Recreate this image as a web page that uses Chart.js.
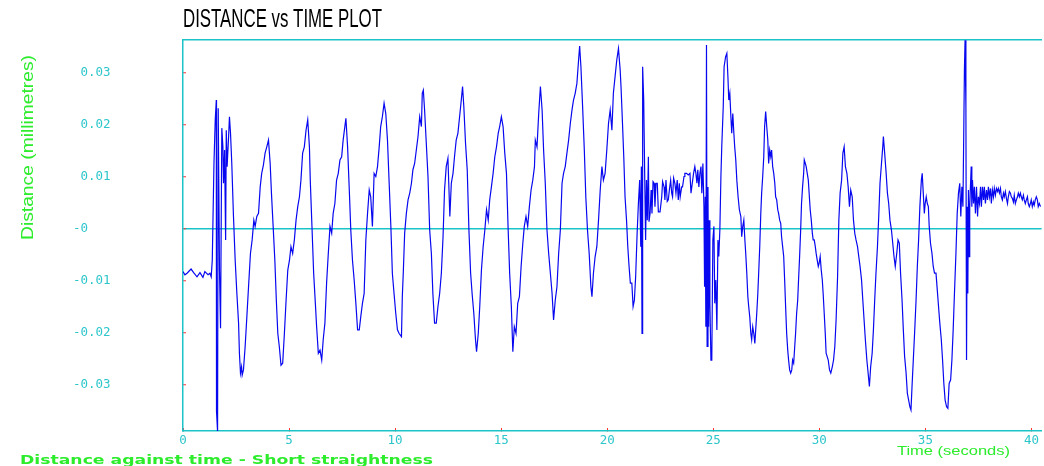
<!DOCTYPE html>
<html lang="en">
<head>
<meta charset="UTF-8">
<title>Distance vs Time Plot</title>
<script src="https://cdn.jsdelivr.net/npm/chart.js"></script>
<style>
  html, body { margin: 0; padding: 0; background: #fff; }
  #plot { display: block; }
</style>
</head>
<body>
<canvas id="plot" width="1044" height="466"></canvas>
<script>
// time in seconds
const timeSec = [
  0.00,0.09,0.19,0.38,0.52,0.66,0.80,0.94,1.03,1.18,
  1.27,1.33,1.38,1.46,1.52,1.57,1.58,1.63,1.66,1.72,
  1.77,1.83,1.88,1.91,1.96,2.01,2.04,2.08,2.15,2.19,
  2.24,2.30,2.38,2.46,2.54,2.62,2.66,2.71,2.76,2.79,
  2.85,2.93,3.01,3.09,3.18,3.26,3.34,3.40,3.48,3.56,
  3.64,3.71,3.79,3.87,3.95,4.03,4.11,4.17,4.25,4.33,
  4.40,4.47,4.54,4.62,4.70,4.78,4.86,4.94,5.02,5.09,
  5.17,5.25,5.33,5.41,5.49,5.56,5.64,5.72,5.80,5.88,
  5.96,6.00,6.08,6.16,6.24,6.30,6.38,6.46,6.54,6.61,
  6.69,6.77,6.85,6.93,7.01,7.08,7.16,7.24,7.32,7.40,
  7.48,7.55,7.63,7.68,7.76,7.84,7.91,7.99,8.07,8.15,
  8.23,8.31,8.38,8.46,8.54,8.62,8.70,8.78,8.85,8.93,
  9.01,9.09,9.17,9.25,9.32,9.40,9.48,9.56,9.64,9.72,
  9.80,9.87,9.95,10.03,10.11,
  10.19,10.30,10.34,10.39,10.45,10.53,10.61,10.69,10.77,10.84,
  10.92,11.00,11.08,11.16,11.24,11.28,11.33,11.39,11.47,11.55,
  11.63,11.71,11.78,11.86,11.94,12.02,12.10,12.18,12.26,12.33,
  12.41,12.49,12.54,12.58,12.65,12.73,12.80,12.88,12.96,13.04,
  13.12,13.18,13.24,13.32,13.40,13.48,13.56,13.63,13.71,13.79,
  13.84,13.92,13.99,14.07,14.15,14.23,14.31,14.39,14.46,14.54,
  14.62,14.70,14.78,14.86,14.93,15.01,15.09,15.17,15.25,15.33,
  15.40,15.48,15.55,15.62,15.70,15.78,15.86,15.94,16.02,16.09,
  16.17,16.25,16.33,16.41,16.49,16.57,16.61,16.69,16.77,16.85,
  16.93,17.00,17.08,17.16,17.24,17.32,17.40,17.47,17.55,17.63,
  17.71,17.79,17.87,17.94,18.02,18.10,18.18,18.26,18.34,18.41,
  18.49,18.57,18.65,18.70,18.76,18.84,18.92,18.99,19.07,19.15,
  19.23,19.28,19.35,19.43,19.51,19.59,19.67,19.75,19.82,19.90,
  19.98,20.06,20.14,
  20.22,20.29,20.37,20.45,20.53,20.61,20.65,20.72,20.78,20.84,
  20.91,20.97,21.03,21.09,21.16,21.22,21.28,21.34,21.41,21.47,
  21.53,21.58,21.61,21.64,21.67,21.72,21.77,21.81,21.85,21.89,
  21.94,21.97,22.02,22.07,22.11,22.16,22.21,22.25,22.30,22.36,
  22.41,22.49,22.57,22.61,22.68,22.72,22.77,22.83,22.88,22.93,
  22.99,23.04,23.08,23.13,23.19,23.24,23.30,23.35,23.40,23.44,
  23.51,23.55,23.62,23.66,23.74,23.82,23.90,23.95,24.01,24.07,
  24.13,24.18,24.23,24.27,24.32,24.37,24.42,24.46,24.51,24.56,
  24.59,24.62,24.65,24.68,24.71,24.75,24.78,24.81,24.84,24.89,
  24.93,24.98,25.03,25.07,25.12,25.17,25.22,25.26,25.31,25.36,
  25.40,25.47,25.51,25.58,25.64,25.69,25.73,25.78,25.83,25.87,
  25.92,25.97,26.01,26.06,26.11,26.17,26.23,26.30,26.34,26.39,
  26.44,26.49,26.53,26.58,26.63,26.67,26.72,26.77,26.81,26.86,
  26.91,26.96,27.00,27.05,27.10,27.14,27.19,27.24,27.28,27.33,
  27.38,27.42,27.47,27.52,27.57,27.61,27.66,27.71,27.75,27.80,
  27.85,27.90,27.94,27.99,28.04,28.08,28.13,28.18,28.22,28.27,
  28.32,28.37,28.41,28.46,28.51,28.55,28.60,28.65,28.70,28.74,
  28.79,28.84,28.88,28.93,28.98,29.02,29.07,29.12,29.16,29.21,
  29.26,29.29,29.34,29.38,29.43,29.48,29.53,29.57,29.62,29.67,
  29.71,29.76,29.81,29.85,29.90,29.95,29.99,30.04,30.09,30.14,
  30.18,30.23,30.28,30.32,
  30.42,30.48,30.54,30.61,30.67,30.73,30.79,30.86,30.92,30.98,
  31.05,31.11,31.17,31.23,31.30,31.36,31.42,31.48,31.55,31.61,
  31.67,31.73,31.80,31.86,31.92,31.99,32.05,32.11,32.17,32.24,
  32.30,32.36,32.42,32.49,32.55,32.61,32.67,32.74,32.80,32.86,
  32.93,32.99,33.02,33.08,33.15,33.21,33.27,33.33,33.40,33.46,
  33.52,33.58,33.65,33.71,33.77,33.83,33.90,33.96,34.02,34.09,
  34.15,34.21,34.27,34.32,34.37,34.43,34.49,34.56,34.62,34.68,
  34.74,34.81,34.85,34.90,34.95,34.99,35.04,35.09,35.14,35.18,
  35.24,35.31,35.37,35.43,35.50,35.56,35.62,35.68,35.75,35.81,
  35.87,35.93,36.00,36.06,36.12,36.19,36.25,36.31,36.37,36.44,
  36.50,36.56,36.62,36.67,36.72,36.77,36.81,36.84,36.87,36.91,
  36.94,36.97,37.00,37.03,37.06,37.09,37.13,37.16,37.19,37.22,
  37.27,37.31,37.36,37.41,37.46,37.50,37.55,37.60,37.64,37.69,
  37.74,37.78,37.83,37.88,37.93,37.97,38.02,38.07,38.11,38.16,
  38.21,38.25,38.30,38.35,38.40,38.44,38.49,38.54,38.58,38.63,
  38.68,38.72,38.77,38.82,38.87,38.91,38.96,39.01,39.05,39.10,
  39.15,39.19,39.24,39.29,39.34,39.38,39.43,39.48,39.52,39.57,
  39.62,39.66,39.71,39.76,39.81,39.85,39.90,39.95,39.99,40.04,
  40.09,40.13,40.18,40.23,40.28,40.32,40.37,40.43
];

// distance in millimetres, same order as timeSec
const distanceMm = [
  -0.0082,-0.0088,-0.0085,-0.0077,-0.0085,-0.0092,-0.0084,-0.0093,-0.0082,-0.0088,
  -0.0085,-0.0092,-0.0060,0.0126,0.0210,0.0248,-0.0351,-0.0390,0.0232,-0.0079,
  -0.0191,0.0194,0.0158,0.0088,0.0152,-0.0021,0.0190,0.0120,0.0178,0.0216,
  0.0184,0.0126,0.0024,-0.0060,-0.0124,-0.0181,-0.0239,-0.0277,-0.0265,-0.0281,
  -0.0271,-0.0226,-0.0169,-0.0111,-0.0047,-0.0021,0.0017,0.0005,0.0024,0.0030,
  0.0081,0.0107,0.0123,0.0146,0.0158,0.0171,0.0126,0.0069,0.0005,-0.0060,
  -0.0137,-0.0201,-0.0226,-0.0262,-0.0258,-0.0201,-0.0137,-0.0079,-0.0060,-0.0034,
  -0.0047,-0.0021,0.0017,0.0043,0.0062,0.0094,0.0146,0.0158,0.0190,0.0210,
  0.0158,0.0094,0.0005,-0.0085,-0.0143,-0.0188,-0.0239,-0.0233,-0.0252,-0.0213,
  -0.0181,-0.0104,-0.0047,0.0005,-0.0008,0.0030,0.0049,0.0094,0.0107,0.0133,
  0.0139,0.0171,0.0197,0.0213,0.0158,0.0075,-0.0002,-0.0060,-0.0098,-0.0143,
  -0.0194,-0.0194,-0.0169,-0.0143,-0.0124,-0.0021,0.0030,0.0075,0.0062,0.0005,
  0.0107,0.0101,0.0120,0.0158,0.0197,0.0216,0.0242,0.0222,0.0171,0.0088,
  0.0005,-0.0085,-0.0124,-0.0162,-0.0194,
  -0.0201,-0.0207,-0.0130,-0.0079,-0.0008,0.0030,0.0056,0.0069,0.0088,0.0114,
  0.0126,0.0152,0.0178,0.0216,0.0197,0.0261,0.0267,0.0229,0.0165,0.0101,
  -0.0002,-0.0047,-0.0124,-0.0181,-0.0181,-0.0149,-0.0124,-0.0085,-0.0015,0.0075,
  0.0120,0.0136,0.0075,0.0024,0.0088,0.0107,0.0139,0.0171,0.0184,0.0216,
  0.0248,0.0274,0.0235,0.0165,0.0114,-0.0002,-0.0085,-0.0124,-0.0162,-0.0213,
  -0.0236,-0.0201,-0.0149,-0.0079,-0.0034,-0.0002,0.0037,0.0017,0.0056,0.0081,
  0.0107,0.0139,0.0158,0.0184,0.0197,0.0216,0.0197,0.0146,0.0107,-0.0002,
  -0.0085,-0.0149,-0.0236,-0.0188,-0.0201,-0.0143,-0.0130,-0.0072,-0.0028,0.0005,
  0.0024,0.0005,0.0043,0.0075,0.0094,0.0120,0.0171,0.0158,0.0222,0.0274,
  0.0229,0.0152,0.0088,-0.0002,-0.0047,-0.0085,-0.0124,-0.0175,-0.0137,-0.0111,
  -0.0047,-0.0002,0.0088,0.0107,0.0120,0.0146,0.0171,0.0203,0.0229,0.0248,
  0.0261,0.0280,0.0325,0.0352,0.0312,0.0235,0.0152,0.0062,-0.0002,-0.0047,
  -0.0111,-0.0130,-0.0085,-0.0053,-0.0034,0.0017,0.0075,0.0120,0.0094,0.0107,
  0.0152,0.0203,0.0229,
  0.0190,0.0261,0.0293,0.0325,0.0347,0.0306,0.0274,0.0203,0.0139,0.0062,
  0.0017,-0.0034,-0.0072,-0.0104,-0.0104,-0.0149,-0.0137,-0.0092,-0.0008,0.0049,
  0.0094,-0.0034,0.0120,-0.0201,0.0312,0.0248,0.0094,-0.0021,0.0094,0.0017,
  0.0139,0.0014,0.0030,0.0075,0.0030,0.0091,0.0088,0.0043,0.0088,0.0088,
  0.0033,0.0033,0.0062,0.0091,0.0081,0.0056,0.0094,0.0053,0.0056,0.0075,
  0.0094,0.0069,0.0062,0.0098,0.0088,0.0069,0.0094,0.0056,0.0088,0.0062,
  0.0081,0.0081,0.0101,0.0107,0.0107,0.0104,0.0107,0.0069,0.0088,0.0107,
  0.0120,0.0107,0.0088,0.0114,0.0081,0.0107,0.0120,0.0069,0.0126,0.0043,
  -0.0111,0.0062,-0.0188,0.0354,-0.0226,0.0081,-0.0188,0.0017,-0.0143,-0.0252,
  -0.0252,-0.0021,0.0005,-0.0143,-0.0098,-0.0194,-0.0021,-0.0053,-0.0002,0.0101,
  0.0158,0.0235,0.0312,0.0331,0.0338,0.0293,0.0248,0.0261,0.0216,0.0184,
  0.0222,0.0184,0.0158,0.0133,0.0094,0.0062,0.0037,0.0024,-0.0015,0.0005,
  0.0017,-0.0021,-0.0047,-0.0085,-0.0130,-0.0149,-0.0169,-0.0201,-0.0213,-0.0188,
  -0.0201,-0.0220,-0.0194,-0.0162,-0.0124,-0.0085,-0.0034,0.0030,0.0069,0.0101,
  0.0139,0.0197,0.0226,0.0197,0.0171,0.0126,0.0152,0.0139,0.0152,0.0120,
  0.0107,0.0088,0.0062,0.0056,0.0037,0.0030,0.0017,0.0011,-0.0015,-0.0034,
  -0.0053,-0.0104,-0.0149,-0.0201,-0.0233,-0.0252,-0.0271,-0.0277,-0.0271,-0.0252,
  -0.0258,-0.0226,-0.0201,-0.0162,-0.0137,-0.0098,-0.0053,-0.0002,0.0049,0.0081,
  0.0107,0.0133,0.0126,0.0120,0.0107,0.0094,0.0062,0.0037,0.0017,-0.0008,
  -0.0021,-0.0021,-0.0034,-0.0047,-0.0060,-0.0072,-0.0066,-0.0053,-0.0079,-0.0098,
  -0.0124,-0.0162,-0.0201,-0.0239,
  -0.0252,-0.0271,-0.0277,-0.0265,-0.0252,-0.0226,-0.0175,-0.0092,0.0017,0.0069,
  0.0094,0.0146,0.0158,0.0120,0.0107,0.0081,0.0043,0.0075,0.0062,0.0017,
  -0.0008,-0.0021,-0.0034,-0.0053,-0.0072,-0.0098,-0.0137,-0.0175,-0.0213,-0.0252,
  -0.0277,-0.0303,-0.0265,-0.0239,-0.0194,-0.0137,-0.0085,-0.0034,0.0024,0.0088,
  0.0126,0.0158,0.0178,0.0146,0.0107,0.0069,0.0049,0.0017,-0.0002,-0.0027,
  -0.0053,-0.0072,-0.0047,-0.0021,-0.0027,-0.0085,-0.0137,-0.0194,-0.0245,-0.0277,
  -0.0316,-0.0329,-0.0342,-0.0348,-0.0303,-0.0252,-0.0201,-0.0137,-0.0072,-0.0021,
  0.0043,0.0094,0.0107,0.0069,0.0030,0.0049,0.0062,0.0049,0.0043,0.0005,
  -0.0027,-0.0047,-0.0072,-0.0085,-0.0085,-0.0117,-0.0149,-0.0181,-0.0213,-0.0252,
  -0.0297,-0.0329,-0.0342,-0.0345,-0.0297,-0.0290,-0.0252,-0.0194,-0.0124,-0.0047,
  0.0030,0.0069,0.0088,0.0024,0.0081,0.0043,0.0190,0.0306,0.0363,0.0235,
  -0.0252,0.0043,-0.0124,0.0075,-0.0053,0.0043,0.0088,0.0120,0.0043,0.0094,
  0.0049,0.0081,0.0030,0.0081,0.0024,0.0062,0.0049,0.0081,0.0043,0.0081,
  0.0056,0.0081,0.0049,0.0075,0.0056,0.0081,0.0062,0.0078,0.0049,0.0075,
  0.0062,0.0078,0.0065,0.0078,0.0072,0.0078,0.0069,0.0078,0.0062,0.0056,
  0.0069,0.0062,0.0072,0.0059,0.0049,0.0062,0.0072,0.0069,0.0062,0.0059,
  0.0052,0.0065,0.0049,0.0056,0.0062,0.0069,0.0062,0.0069,0.0062,0.0056,
  0.0065,0.0056,0.0049,0.0056,0.0062,0.0049,0.0043,0.0049,0.0056,0.0043,
  0.0052,0.0046,0.0056,0.0062,0.0056,0.0043,0.0049,0.0043
];

const xTicks = [0, 5, 10, 15, 20, 25, 30, 35, 40];
const yTicks = [-0.03, -0.02, -0.01, 0, 0.01, 0.02, 0.03];

const chartTitle = 'DISTANCE vs TIME PLOT';
const yTitle = 'Distance (millimetres)';
const xTitle = 'Time (seconds)';
const footNote = 'Distance against time - Short straightness';

const CYAN = '#1ac3c7';
const LABEL = '#2cc6cb';
const GREEN = '#2cec2c';
const TICKRED = '#ff3030';

// old plotting package squeezed/stretched its fonts, so fit each text to its width
function fitText(ctx, text, x, y, width, font, color, angle) {
  ctx.save();
  ctx.font = font;
  const w = ctx.measureText(text).width;
  ctx.translate(x, y);
  if (angle) ctx.rotate(angle);
  ctx.scale(width / w, 1);
  ctx.fillStyle = color;
  ctx.textAlign = 'left';
  ctx.textBaseline = 'alphabetic';
  ctx.fillText(text, 0, 0);
  ctx.restore();
}

const textPlugin = {
  id: 'plotTexts',
  afterDraw(chart) {
    const ctx = chart.ctx;
    fitText(ctx, chartTitle, 183, 27, 199, '25px "Liberation Sans", Arial, sans-serif', '#000', 0);
    fitText(ctx, yTitle, 32.5, 240, 185, '16px "Liberation Sans", Arial, sans-serif', GREEN, -Math.PI / 2);
    fitText(ctx, xTitle, 897, 455, 113, '13px "Liberation Sans", Arial, sans-serif', GREEN, 0);
    fitText(ctx, footNote, 20, 464, 413, 'bold 13px "DejaVu Sans", sans-serif', GREEN, 0);
  }
};

const tickFont = { family: '"DejaVu Sans Mono", monospace', size: 12.5 };

new Chart(document.getElementById('plot'), {
  type: 'line',
  data: {
    datasets: [{
      data: timeSec.map((t, i) => ({ x: t, y: distanceMm[i] })),
      borderColor: '#0808f0',
      borderWidth: 1.2,
      pointRadius: 0,
      tension: 0,
      fill: false
    }]
  },
  options: {
    responsive: false,
    animation: false,
    devicePixelRatio: 1,
    layout: { padding: { left: 73, top: 40, right: 0, bottom: 0 } },
    plugins: { legend: { display: false }, tooltip: { enabled: false } },
    scales: {
      x: {
        type: 'linear',
        min: 0,
        max: 40.48,
        afterBuildTicks: s => { s.ticks = xTicks.map(v => ({ value: v })); },
        afterFit: s => { s.height = 35; },
        ticks: { color: LABEL, font: tickFont, padding: 5, maxRotation: 0, autoSkip: false },
        grid: { drawOnChartArea: false, tickLength: -3, tickColor: TICKRED, tickWidth: 1 },
        border: { color: CYAN, width: 1.5 }
      },
      xTop: {
        type: 'linear',
        position: 'top',
        min: 0,
        max: 40.48,
        ticks: { display: false },
        grid: { drawOnChartArea: false, drawTicks: false },
        border: { color: CYAN, width: 1.5 },
        afterFit: s => { s.height = 0; }
      },
      y: {
        min: -0.03885,
        max: 0.03635,
        afterBuildTicks: s => { s.ticks = yTicks.map(v => ({ value: v })); },
        afterFit: s => { s.width = 110; },
        ticks: {
          color: LABEL,
          font: tickFont,
          crossAlign: 'far',
          callback: v => v === 0 ? '-0' : (v > 0 ? ' ' : '') + v.toFixed(2)
        },
        grid: {
          color: c => (c.tick && c.tick.value === 0) ? CYAN : 'rgba(0,0,0,0)',
          lineWidth: 1.5,
          tickLength: -3,
          tickColor: TICKRED,
          tickWidth: 1
        },
        border: { color: CYAN, width: 1.5 }
      }
    }
  },
  plugins: [textPlugin]
});
</script>
</body>
</html>
